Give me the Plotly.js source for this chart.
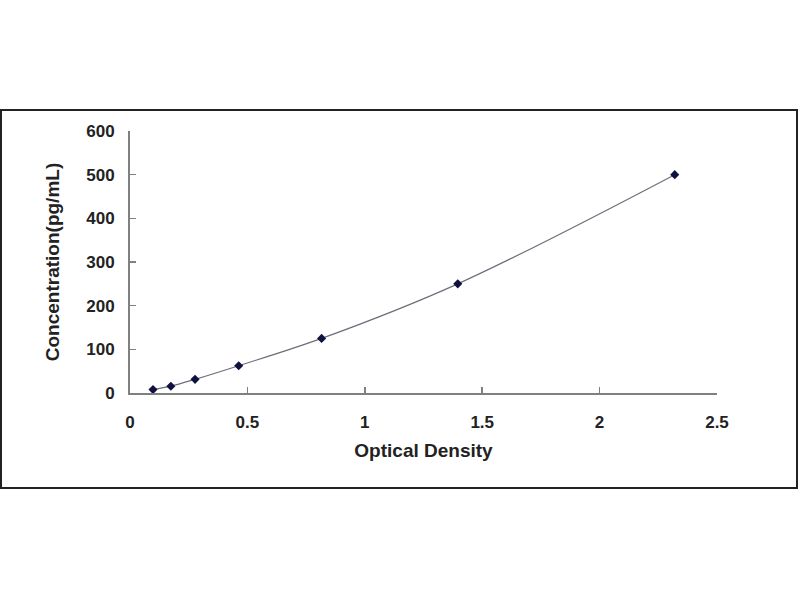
<!DOCTYPE html>
<html>
<head>
<meta charset="utf-8">
<script src="https://cdn.plot.ly/plotly-3.0.1.min.js"></script>
<style>
  html, body { margin: 0; padding: 0; background: #fff; }
  #graph { width: 800px; height: 600px; }
</style>
</head>
<body>
<div id="graph"></div>
<script>
// standard curve points
const opticalDensity = [0.098, 0.174, 0.277, 0.463, 0.816, 1.396, 2.32];
const concentration = [7.8, 15.6, 31.25, 62.5, 125, 250, 500];

const xTicks = [0, 0.5, 1, 1.5, 2, 2.5];
const yTicks = [0, 100, 200, 300, 400, 500, 600];

// plot box in px, used to place the outer frame
const box = { l: 130, r: 83, t: 131, b: 207 };

plot();

function plot() {
  const curve = {
    x: opticalDensity,
    y: concentration,
    mode: 'lines+markers',
    line: { shape: 'spline', color: '#6e6e7a', width: 1.2 },
    marker: { symbol: 'diamond', size: 7, color: '#101040' },
    hoverinfo: 'x+y'
  };

  const tickFont = { family: 'Liberation Sans, Arial, sans-serif', size: 17, color: '#222', weight: 'bold' };
  const titleFont = { family: 'Liberation Sans, Arial, sans-serif', size: 19, color: '#222' };

  const plotW = 800 - box.l - box.r;
  const plotH = 600 - box.t - box.b;

  const layout = {
    width: 800,
    height: 600,
    margin: { l: box.l, r: box.r, t: box.t, b: box.b, pad: 0 },
    paper_bgcolor: '#fff',
    plot_bgcolor: '#fff',
    showlegend: false,
    xaxis: {
      range: [0, 2.5],
      tickvals: xTicks,
      ticktext: xTicks.map(String),
      ticks: 'inside',
      ticklen: 6,
      tickwidth: 1.5,
      tickcolor: '#808080',
      showline: true,
      linecolor: '#808080',
      linewidth: 2,
      showgrid: false,
      zeroline: false,
      ticklabelstandoff: 13,
      tickfont: tickFont,
      title: { text: '<b>Optical Density</b>', font: titleFont, standoff: 12 },
      automargin: false
    },
    yaxis: {
      range: [0, 600],
      tickvals: yTicks,
      ticks: 'inside',
      ticklen: 6,
      tickwidth: 1.5,
      tickcolor: '#808080',
      showline: true,
      linecolor: '#808080',
      linewidth: 2,
      showgrid: false,
      zeroline: false,
      ticklabelstandoff: 10,
      tickfont: tickFont,
      title: { text: '<b>Concentration(pg/mL)</b>', font: titleFont, standoff: 22 },
      automargin: false
    },
    // outer frame around the chart
    shapes: [{
      type: 'rect',
      xref: 'paper', yref: 'paper',
      x0: (1 - box.l) / plotW, x1: (797 - box.l) / plotW,
      y0: (600 - box.b - 488) / plotH, y1: (600 - box.b - 110) / plotH,
      line: { color: '#222', width: 2 }
    }]
  };

  Plotly.newPlot('graph', [curve], layout, { displayModeBar: false, staticPlot: true });
}
</script>
</body>
</html>
